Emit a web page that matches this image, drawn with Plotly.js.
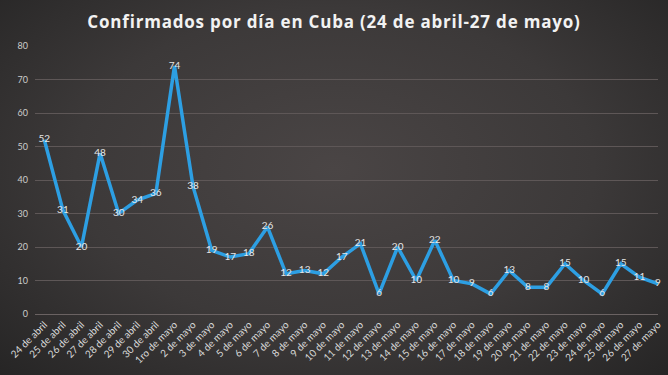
<!DOCTYPE html>
<html>
<head>
<meta charset="utf-8">
<script src="https://cdn.plot.ly/plotly-3.0.1.min.js"></script>
<style>
html,body{margin:0;padding:0;width:668px;height:375px;overflow:hidden;}
body{background:radial-gradient(ellipse at 50% 45%, #4a4545 0%, #3c3939 55%, #262525 100%);}
#chart{width:668px;height:375px;}
.gtitle{letter-spacing:0.8px;}
</style>
</head>
<body>
<div id="chart"></div>
<script>
const fechas = ["24 de abril","25 de abril","26 de abril","27 de abril","28 de abril","29 de abril","30 de abril",
  "1ro de mayo","2 de mayo","3 de mayo","4 de mayo","5 de mayo","6 de mayo","7 de mayo","8 de mayo","9 de mayo",
  "10 de mayo","11 de mayo","12 de mayo","13 de mayo","14 de mayo","15 de mayo","16 de mayo","17 de mayo","18 de mayo",
  "19 de mayo","20 de mayo","21 de mayo","22 de mayo","23 de mayo","24 de mayo","25 de mayo","26 de mayo","27 de mayo"];
const confirmados = [52,31,20,48,30,34,36,74,38,19,17,18,26,12,13,12,17,21,6,20,10,22,10,9,6,13,8,8,15,10,6,15,11,9];
const yTicks = [0,10,20,30,40,50,60,70,80];

const trace = {
  x: fechas,
  y: confirmados,
  type: 'scatter',
  mode: 'lines+text',
  text: confirmados.map(String),
  textposition: 'middle center',
  textfont: {family: 'Lato, "Open Sans", sans-serif', size: 10, color: '#e6e6e6'},
  line: {color: '#2d9fe3', width: 3.5},
  hoverinfo: 'x+y',
  cliponaxis: false
};

const layout = {
  width: 668, height: 375,
  paper_bgcolor: 'rgba(0,0,0,0)',
  plot_bgcolor: 'rgba(0,0,0,0)',
  margin: {l: 35, r: 10, t: 46, b: 61},
  showlegend: false,
  title: {
    text: '<b>Confirmados por día en Cuba (24 de abril-27 de mayo)</b>',
    x: 0.5, xanchor: 'center', y: 0.94, yanchor: 'middle',
    font: {family: '"Open Sans", sans-serif', size: 17, color: '#f2f2f2'}
  },
  xaxis: {
    type: 'category',
    range: [-0.5, 33],
    tickangle: -45,
    tickfont: {family: 'Lato, "Open Sans", sans-serif', size: 10, color: '#d9d9d9'},
    showgrid: false,
    showline: true, linecolor: '#6a6262', linewidth: 1,
    ticks: '', zeroline: false
  },
  yaxis: {
    range: [0, 80],
    tickvals: yTicks,
    ticktext: yTicks.map(String),
    tickfont: {family: 'Lato, "Open Sans", sans-serif', size: 9, color: '#cccccc'},
    gridcolor: '#5e5757', gridwidth: 1,
    zeroline: false, showline: false, ticks: '',
    ticklabelstandoff: 6
  }
};

Plotly.newPlot('chart', [trace], layout, {displayModeBar: false, staticPlot: true});
</script>
</body>
</html>
